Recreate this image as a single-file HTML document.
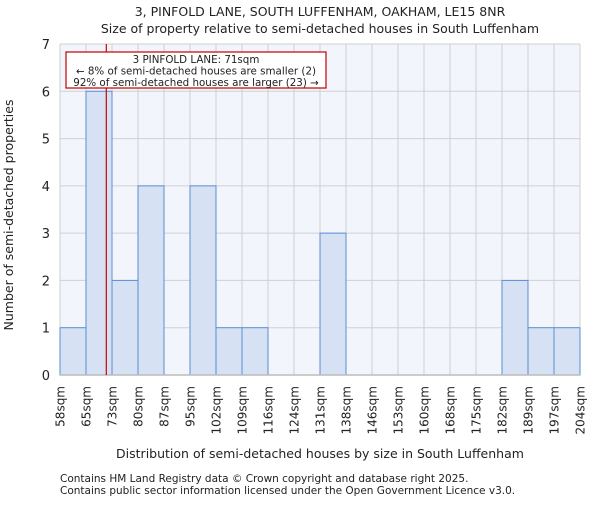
<!DOCTYPE html>
<html><head><meta charset="utf-8"><style>
body{margin:0;background:#fff;font-family:"Liberation Sans","DejaVu Sans",sans-serif;}
svg text{font-family:"DejaVu Sans","Liberation Sans",sans-serif;fill:#222;}
</style></head><body>
<svg id="chart" width="600" height="500">
<text x="320" y="16" font-size="12.5" text-anchor="middle">3, PINFOLD LANE, SOUTH LUFFENHAM, OAKHAM, LE15 8NR</text>
<text x="320" y="33" font-size="12.5" text-anchor="middle">Size of property relative to semi-detached houses in South Luffenham</text>
<rect x="60" y="44" width="520" height="331" fill="#f2f5fc"/>
<g id="grid"></g>
<g id="bars"></g>
<g id="axes"></g>
<text transform="translate(13,215) rotate(-90)" font-size="12.5" text-anchor="middle">Number of semi-detached properties</text>
<text x="320" y="458" font-size="12.5" text-anchor="middle">Distribution of semi-detached houses by size in South Luffenham</text>
<text x="60" y="482" font-size="10.5" fill="#444">Contains HM Land Registry data © Crown copyright and database right 2025.</text>
<text x="60" y="494" font-size="10.5" fill="#444">Contains public sector information licensed under the Open Government Licence v3.0.</text>
<line id="marker" y1="44" y2="375" stroke="#d00000" stroke-width="1.2"/>
<g>
<rect x="66" y="52" width="260" height="36" fill="#fff" stroke="#c00000" stroke-width="1.2"/>
<text x="196" y="63" font-size="10.3" text-anchor="middle">3 PINFOLD LANE: 71sqm</text>
<text x="196" y="74.5" font-size="10.3" text-anchor="middle">← 8% of semi-detached houses are smaller (2)</text>
<text x="196" y="86" font-size="10.3" text-anchor="middle">92% of semi-detached houses are larger (23) →</text>
</g>
</svg>
<script>
const tickLabels=["58sqm","65sqm","73sqm","80sqm","87sqm","95sqm","102sqm","109sqm","116sqm","124sqm","131sqm","138sqm","146sqm","153sqm","160sqm","168sqm","175sqm","182sqm","189sqm","197sqm","204sqm"];
const counts=[1,6,2,4,0,4,1,1,0,0,3,0,0,0,0,0,0,2,1,1];
const yTicks=[0,1,2,3,4,5,6,7];
const propertySize=71;
const ns="http://www.w3.org/2000/svg";
const x0=60,x1=580,yb=375,yt=44,ymax=7;
const bw=(x1-x0)/counts.length;
const xs=i=>x0+i*bw;
const ys=v=>yb-v/ymax*(yb-yt);
function mk(t,a,p){const e=document.createElementNS(ns,t);for(const k in a)e.setAttribute(k,a[k]);p.appendChild(e);return e;}
const grid=document.getElementById('grid'),bars=document.getElementById('bars'),axes=document.getElementById('axes');
yTicks.forEach(v=>{
 const l=mk('line',{x1:x0,x2:x1,y1:ys(v),y2:ys(v),stroke:'#d0d0d0','stroke-width':1},grid);
 
 
 const t=mk('text',{x:x0-10,y:ys(v)+5,'font-size':13,'text-anchor':'end'},axes);
 t.textContent=v;
 
 
});
tickLabels.forEach((s,i)=>{
 const l=mk('line',{x1:xs(i),x2:xs(i),y1:yt,y2:yb,stroke:'#d0d0d0','stroke-width':1},grid);
 
 
 const t=mk('text',{transform:`translate(${xs(i)+4.5},386) rotate(-90)`,'font-size':12,'text-anchor':'end'},axes);
 t.textContent=s;
 
 
});
counts.forEach((c,i)=>{
 if(c<=0)return;
 const r=mk('rect',{x:xs(i),y:ys(c),width:bw,height:yb-ys(c),fill:'#d6e2f3',stroke:'#5b8fd6','stroke-width':1},bars);
 
 
});
const al=mk('line',{x1:x0,x2:x1,y1:yb,y2:yb,stroke:'#bbb','stroke-width':1.5},axes);


const edge=i=>58+i*(204-58)/20;
let k=0;while(k<19&&edge(k+1)<propertySize)k++;
const mx=xs(k)+(propertySize-edge(k))/(edge(k+1)-edge(k))*bw;
const m=document.getElementById('marker');m.setAttribute('x1',mx);m.setAttribute('x2',mx);
</script>
</body></html>
